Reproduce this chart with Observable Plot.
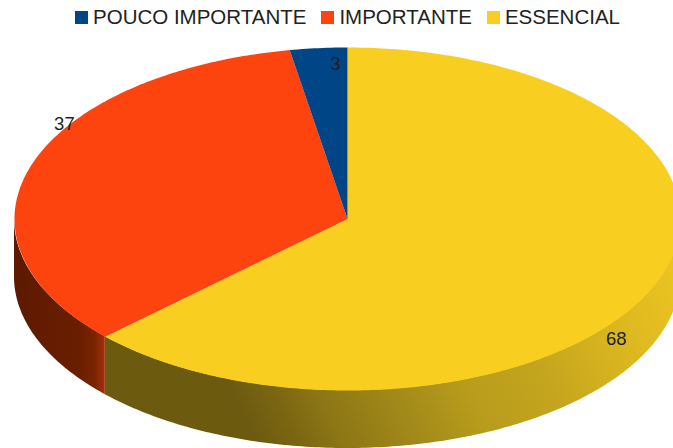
<!DOCTYPE html>
<html>
<head>
<meta charset="utf-8">
<script src="https://cdn.jsdelivr.net/npm/d3@7"></script>
<script src="https://cdn.jsdelivr.net/npm/@observablehq/plot@0.6"></script>
<style>
  html, body { margin: 0; padding: 0; background: #fff; overflow: hidden; }
  #legend { height: 34px; display: flex; justify-content: center; align-items: center; padding-left: 22px; }
  #legend > div { margin: 0 !important; min-height: 0 !important; }
  #legend span { margin-right: 15px !important; }
  #legend span:last-child { margin-right: 0 !important; }
  #legend span svg { margin-right: 5px !important; }
  #chart svg { display: block; }
</style>
</head>
<body>
<div id="legend"></div>
<div id="chart"></div>
<script>
// Answers per importance level
const categories = ["POUCO IMPORTANTE", "IMPORTANTE", "ESSENCIAL"];
const values = [3, 37, 68];
const colors = ["#004586", "#fd430e", "#f8ce20"];

// Label offsets from the rim point at each slice's middle angle
const labelDx = { "POUCO IMPORTANTE": 17, "IMPORTANTE": 33, "ESSENCIAL": -37 };
const labelDy = { "POUCO IMPORTANTE": 16, "IMPORTANTE": -41, "ESSENCIAL": 52 };

// Disc thickness in y-scale units
const depth = 0.338;
const font = "'Liberation Sans', Arial, sans-serif";

// Slices run clockwise from twelve o'clock, largest level first
const order = categories.map((name, i) => ({ name, value: values[i] })).reverse();
const arcs = d3.pie().sort(null).value((d) => d.value)(order);

const rim = (a) => ({ x: Math.sin(a), y: Math.cos(a) });
const sweep = (a0, a1) => {
  const n = Math.max(2, Math.ceil(Math.abs(a1 - a0) / (Math.PI / 240)));
  return d3.range(n + 1).map((i) => a0 + ((a1 - a0) * i) / n);
};

const faces = arcs.flatMap((s) => [
  { name: s.data.name, x: 0, y: 0 },
  ...sweep(s.startAngle, s.endAngle).map((a) => ({ name: s.data.name, ...rim(a) }))
]);

// Only the part of the rim between 3 and 9 o'clock faces the viewer
const wall = (s) =>
  sweep(Math.max(s.startAngle, Math.PI / 2), Math.min(s.endAngle, (3 * Math.PI) / 2)).map(rim);
const wallEssencial = wall(arcs[0]);
const wallImportante = wall(arcs[1]);

const labels = arcs.map((s) => ({
  name: s.data.name,
  value: s.data.value,
  ...rim((s.startAngle + s.endAngle) / 2)
}));

// Side wall shading; the yellow wall is lit from the upper right
const gradient = (id, vector, stops) => {
  const g = d3.create("svg:linearGradient").attr("id", id);
  for (const [k, v] of Object.entries(vector)) g.attr(k, v);
  for (const [offset, color] of stops) g.append("stop").attr("offset", offset).attr("stop-color", color);
  return g.node();
};
const shading = () => {
  const defs = d3.create("svg:defs");
  defs.append(() => gradient(
    "wall-essencial",
    { gradientUnits: "userSpaceOnUse", x1: 200, y1: 414, x2: 680, y2: 183 },
    [
      [0, "#6c5a0f"], [0.1, "#6c5a10"], [0.17, "#7a6612"],
      [0.24, "#8c7515"], [0.377, "#a28a1a"], [0.5, "#b89c1c"], [0.64, "#c5a51e"],
      [0.84, "#e0bb20"], [1, "#f0c821"]
    ]
  ));
  defs.append(() => gradient(
    "wall-importante",
    { x1: 0, x2: 1, y1: 0, y2: 0 },
    [[0, "#5c1a00"], [0.72, "#6a1e00"], [0.89, "#7a2400"], [1, "#a3300a"]]
  ));
  return defs.node();
};

const plot = Plot.plot({
  width: 673,
  height: 414,
  margin: 0,
  x: { domain: [-1, 1], range: [14, 680], axis: null },
  y: { domain: [1, -1], range: [13, 356], axis: null },
  color: { domain: categories, range: colors },
  marks: [
    shading,
    Plot.areaY(wallEssencial, {
      x: "x", y1: "y", y2: (d) => d.y - depth, fill: "url(#wall-essencial)"
    }),
    Plot.areaY(wallImportante, {
      x: "x", y1: "y", y2: (d) => d.y - depth, fill: "url(#wall-importante)"
    }),
    Plot.line(faces, { x: "x", y: "y", z: "name", fill: "name", stroke: null }),
    ...labels.map((d) =>
      Plot.text([d], {
        x: "x", y: "y", text: "value",
        dx: labelDx[d.name], dy: labelDy[d.name],
        fontSize: 18.5, fontFamily: font, fill: "#1f1f1f"
      })
    )
  ]
});

document.getElementById("chart").append(plot);
document.getElementById("legend").append(
  plot.legend("color", {
    legend: "swatches",
    swatchSize: 13,
    style: { fontFamily: font, fontSize: "20.5px", color: "#222" }
  })
);
</script>
</body>
</html>
